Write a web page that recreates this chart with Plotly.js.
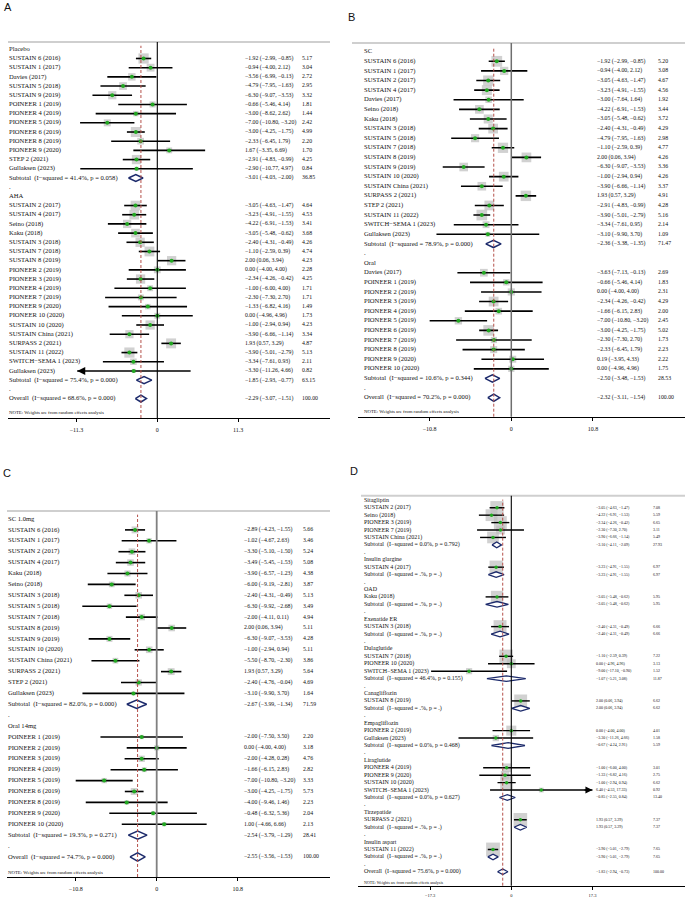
<!DOCTYPE html>
<html>
<head>
<meta charset="utf-8">
<script src="https://cdn.plot.ly/plotly-3.0.1.min.js"></script>
<style>
html, body { margin: 0; padding: 0; background: #fff; }
#chart { width: 685px; height: 900px; }
</style>
</head>
<body>
<div id="chart"></div>
<script>
// ---------- Panel A: semaglutide vs placebo / active hypoglycaemic agents ----------
const A_groups = ['Placebo', 'AHA'];
const A_studies = [
  ['SUSTAIN 6 (2016)', 'SUSTAIN 1 (2017)', 'Davies (2017)', 'SUSTAIN 5 (2018)', 'SUSTAIN 9 (2019)', 'POINEER 1 (2019)', 'PIONEER 4 (2019)', 'PIONEER 5 (2019)', 'PIONEER 6 (2019)', 'PIONEER 8 (2019)', 'PIONEER 9 (2020)', 'STEP 2 (2021)', 'Gullaksen (2023)'],
  ['SUSTAIN 2 (2017)', 'SUSTAIN 4 (2017)', 'Seino (2018)', 'Kaku (2018)', 'SUSTAIN 3 (2018)', 'SUSTAIN 7 (2018)', 'SUSTAIN 8 (2019)', 'PIONEER 2 (2019)', 'PIONEER 3 (2019)', 'PIONEER 4 (2019)', 'PIONEER 7 (2019)', 'PIONEER 9 (2020)', 'PIONEER 10 (2020)', 'SUSTAIN 10 (2020)', 'SUSTAIN China (2021)', 'SURPASS 2 (2021)', 'SUSTAIN 11 (2022)', 'SWITCH\u2212SEMA 1 (2023)', 'Gullaksen (2023)']
];
const A_wmd = [
  [-1.92, -0.94, -3.56, -4.79, -6.30, -0.66, -3.00, -7.00, -3.00, -2.33, 1.67, -2.91, -2.90],
  [-3.05, -3.23, -4.22, -3.05, -2.40, -1.10, 2.00, 0.00, -2.34, -1.00, -2.30, -1.33, 0.00, -1.00, -3.90, 1.93, -3.90, -3.34, -3.30]
];
const A_lower = [
  [-2.99, -4.00, -6.99, -7.95, -9.07, -5.46, -8.62, -10.80, -4.25, -6.45, -3.35, -4.83, -10.77],
  [-4.63, -4.91, -6.91, -5.48, -4.31, -2.59, 0.06, -4.00, -4.26, -6.00, -7.30, -6.82, -4.96, -2.94, -6.66, 0.57, -5.01, -7.61, -11.26]
];
const A_upper = [
  [-0.85, 2.12, -0.13, -1.63, -3.53, 4.14, 2.62, -3.20, -1.75, 1.79, 6.69, -0.99, 4.97],
  [-1.47, -1.55, -1.53, -0.62, -0.49, 0.39, 3.94, 4.00, -0.42, 4.00, 2.70, 4.16, 4.96, 0.94, -1.14, 3.29, -2.79, 0.93, 4.66]
];
const A_weight = [
  [5.17, 3.04, 2.72, 2.95, 3.32, 1.81, 1.44, 2.42, 4.99, 2.20, 1.70, 4.25, 0.84],
  [4.64, 4.53, 3.41, 3.68, 4.26, 4.74, 4.23, 2.28, 4.25, 1.71, 1.71, 1.49, 1.73, 4.23, 3.34, 4.87, 5.13, 2.11, 0.82]
];
const A_subHet = ['I\u2212squared = 41.4%, p = 0.058', 'I\u2212squared = 75.4%, p = 0.000'];
const A_subWmd = [-3.01, -1.85];
const A_subLower = [-4.03, -2.93];
const A_subUpper = [-2.00, -0.77];
const A_subWeight = [36.85, 63.15];
const A_overall = [-2.29, -3.07, -1.51];
const A_overallHet = 'I\u2212squared = 68.6%, p = 0.000';

// ---------- Panel B: SC vs oral ----------
const B_groups = ['SC', 'Oral'];
const B_studies = [
  ['SUSTAIN 6 (2016)', 'SUSTAIN 1 (2017)', 'SUSTAIN 2 (2017)', 'SUSTAIN 4 (2017)', 'Davies (2017)', 'Seino (2018)', 'Kaku (2018)', 'SUSTAIN 3 (2018)', 'SUSTAIN 5 (2018)', 'SUSTAIN 7 (2018)', 'SUSTAIN 8 (2019)', 'SUSTAIN 9 (2019)', 'SUSTAIN 10 (2020)', 'SUSTAIN China (2021)', 'SURPASS 2 (2021)', 'STEP 2 (2021)', 'SUSTAIN 11 (2022)', 'SWITCH\u2212SEMA 1 (2023)', 'Gullaksen (2023)'],
  ['Davies (2017)', 'POINEER 1 (2019)', 'PIONEER 2 (2019)', 'PIONEER 3 (2019)', 'PIONEER 4 (2019)', 'PIONEER 5 (2019)', 'PIONEER 6 (2019)', 'PIONEER 7 (2019)', 'PIONEER 8 (2019)', 'PIONEER 9 (2020)', 'PIONEER 10 (2020)']
];
const B_wmd = [
  [-1.92, -0.94, -3.05, -3.23, -3.00, -4.22, -3.05, -2.40, -4.79, -1.10, 2.00, -6.30, -1.00, -3.90, 1.93, -2.91, -3.90, -3.34, -3.10],
  [-3.63, -0.66, 0.00, -2.34, -1.66, -7.00, -3.00, -2.30, -2.33, 0.19, 0.00]
];
const B_lower = [
  [-2.99, -4.00, -4.63, -4.91, -7.64, -6.91, -5.48, -4.31, -7.95, -2.59, 0.06, -9.07, -2.94, -6.66, 0.57, -4.83, -5.01, -7.61, -9.90],
  [-7.13, -5.46, -4.00, -4.26, -6.15, -10.80, -4.25, -7.30, -6.45, -3.95, -4.96]
];
const B_upper = [
  [-0.85, 2.12, -1.47, -1.55, 1.64, -1.53, -0.62, -0.49, -1.63, 0.39, 3.94, -3.53, 0.94, -1.14, 3.29, -0.99, -2.79, 0.95, 3.70],
  [-0.13, 4.14, 4.00, -0.42, 2.83, -3.20, -1.75, 2.70, 1.79, 4.33, 4.96]
];
const B_weight = [
  [5.20, 3.08, 4.67, 4.56, 1.92, 3.44, 3.72, 4.29, 2.98, 4.77, 4.26, 3.36, 4.26, 3.37, 4.91, 4.28, 5.16, 2.14, 1.09],
  [2.69, 1.83, 2.31, 4.29, 2.00, 2.45, 5.02, 1.73, 2.23, 2.22, 1.75]
];
const B_subHet = ['I\u2212squared = 78.9%, p = 0.000', 'I\u2212squared = 10.6%, p = 0.344'];
const B_subWmd = [-2.36, -2.50];
const B_subLower = [-3.38, -3.48];
const B_subUpper = [-1.35, -1.53];
const B_subWeight = [71.47, 28.53];
const B_overall = [-2.32, -3.11, -1.54];
const B_overallHet = 'I\u2212squared = 70.2%, p = 0.000';

// ---------- Panel C: SC 1.0 mg vs oral 14 mg ----------
const C_groups = ['SC 1.0mg', 'Oral 14mg'];
const C_studies = [
  ['SUSTAIN 6 (2016)', 'SUSTAIN 1 (2017)', 'SUSTAIN 2 (2017)', 'SUSTAIN 4 (2017)', 'Kaku (2018)', 'Seino (2018)', 'SUSTAIN 3 (2018)', 'SUSTAIN 5 (2018)', 'SUSTAIN 7 (2018)', 'SUSTAIN 8 (2019)', 'SUSTAIN 9 (2019)', 'SUSTAIN 10 (2020)', 'SUSTAIN China (2021)', 'SURPASS 2 (2021)', 'STEP 2 (2021)', 'Gullaksen (2023)'],
  ['POINEER 1 (2019)', 'PIONEER 2 (2019)', 'PIONEER 3 (2019)', 'PIONEER 4 (2019)', 'PIONEER 5 (2019)', 'PIONEER 6 (2019)', 'PIONEER 8 (2019)', 'PIONEER 9 (2020)', 'PIONEER 10 (2020)']
];
const C_wmd = [
  [-2.89, -1.02, -3.30, -3.49, -3.90, -6.00, -2.40, -6.30, -2.00, 2.00, -6.30, -1.00, -5.50, 1.93, -2.40, -3.10],
  [-2.00, 0.00, -2.00, -1.66, -7.00, -3.00, -4.00, -0.48, 1.00]
];
const C_lower = [
  [-4.23, -4.67, -5.10, -5.45, -6.57, -9.19, -4.31, -9.92, -4.11, 0.06, -9.07, -2.94, -8.70, 0.57, -4.76, -9.90],
  [-7.50, -4.00, -4.28, -6.15, -10.80, -4.25, -9.46, -6.32, -4.66]
];
const C_upper = [
  [-1.55, 2.63, -1.50, -1.53, -1.23, -2.81, -0.49, -2.68, 0.11, 3.94, -3.53, 0.94, -2.30, 3.29, -0.04, 3.70],
  [3.50, 4.00, 0.28, 2.83, -3.20, -1.75, 1.46, 5.36, 6.66]
];
const C_weight = [
  [5.66, 3.46, 5.24, 5.08, 4.38, 3.87, 5.13, 3.49, 4.94, 5.11, 4.28, 5.11, 3.86, 5.64, 4.69, 1.64],
  [2.20, 3.18, 4.76, 2.82, 3.33, 5.73, 2.23, 2.04, 2.13]
];
const C_subHet = ['I\u2212squared = 82.0%, p = 0.000', 'I\u2212squared = 19.3%, p = 0.271'];
const C_subWmd = [-2.67, -2.54];
const C_subLower = [-3.99, -3.79];
const C_subUpper = [-1.34, -1.29];
const C_subWeight = [71.59, 28.41];
const C_overall = [-2.55, -3.56, -1.53];
const C_overallHet = 'I\u2212squared = 74.7%, p = 0.000';

// ---------- Panel D: by comparator ----------
const D_groups = ['Sitagliptin', 'Insulin glargine', 'OAD', 'Exenatide ER', 'Dulaglutide', 'Canagliflozin', 'Empagliflozin', 'Liraglutide', 'Tirzepatide', 'Insulin aspart'];
const D_studies = [
  ['SUSTAIN 2 (2017)', 'Seino (2018)', 'PIONEER 3 (2019)', 'PIONEER 7 (2019)', 'SUSTAIN China (2021)'],
  ['SUSTAIN 4 (2017)'],
  ['Kaku (2018)'],
  ['SUSTAIN 3 (2018)'],
  ['SUSTAIN 7 (2018)', 'PIONEER 10 (2020)', 'SWITCH\u2212SEMA 1 (2023)'],
  ['SUSTAIN 8 (2019)'],
  ['PIONEER 2 (2019)', 'Gullaksen (2023)'],
  ['PIONEER 4 (2019)', 'PIONEER 9 (2020)', 'SUSTAIN 10 (2020)', 'SWITCH\u2212SEMA 1 (2023)'],
  ['SURPASS 2 (2021)'],
  ['SUSTAIN 11 (2022)']
];
const D_wmd = [
  [-3.05, -4.22, -2.34, -2.30, -3.90], [-3.23], [-3.05], [-2.40], [-1.10, 0.00, -9.00],
  [2.00], [0.00, -3.30], [-1.00, -1.33, -1.00, 6.40], [1.93], [-3.90]
];
const D_lower = [
  [-4.63, -6.91, -4.26, -7.30, -6.66], [-4.91], [-5.48], [-4.31], [-2.59, -4.96, -17.10],
  [0.06], [-4.00, -11.26], [-6.00, -6.82, -2.94, -4.53], [0.57], [-5.01]
];
const D_upper = [
  [-1.47, -1.53, -0.42, 2.70, -1.14], [-1.55], [-0.62], [-0.49], [0.39, 4.96, -0.90],
  [3.94], [4.00, 4.66], [4.00, 4.16, 0.94, 17.33], [3.29], [-2.79]
];
const D_weight = [
  [7.08, 5.59, 6.65, 3.11, 5.49], [6.97], [5.95], [6.66], [7.22, 3.13, 1.52],
  [6.62], [4.01, 1.58], [3.01, 2.75, 6.62, 0.92], [7.37], [7.65]
];
const D_subHet = ['I\u2212squared = 0.0%, p = 0.792', 'I\u2212squared = .%, p = .', 'I\u2212squared = .%, p = .', 'I\u2212squared = .%, p = .', 'I\u2212squared = 46.4%, p = 0.155', 'I\u2212squared = .%, p = .', 'I\u2212squared = 0.0%, p = 0.468', 'I\u2212squared = 0.0%, p = 0.627', 'I\u2212squared = .%, p = .', 'I\u2212squared = .%, p = .'];
const D_subWmd = [-3.10, -3.23, -3.05, -2.40, -1.07, 2.00, -0.67, -0.85, 1.93, -3.90];
const D_subLower = [-4.11, -4.91, -5.48, -4.31, -5.21, 0.06, -4.24, -2.55, 0.57, -5.01];
const D_subUpper = [-2.09, -1.55, -0.62, -0.49, 3.08, 3.94, 2.91, 0.84, 3.29, -2.79];
const D_subWeight = [27.93, 6.97, 5.95, 6.66, 11.87, 6.62, 5.59, 13.40, 7.37, 7.65];
const D_overall = [-1.83, -2.94, -0.73];
const D_overallHet = 'I\u2212squared = 75.6%, p = 0.000';

// ---------- drawing helpers ----------
const W = 685, H = 900;
const SERIF = '"Liberation Serif", "Times New Roman", serif';
const SANS = '"Liberation Sans", Arial, sans-serif';
const MINUS = '\u2212';
const SP2 = '\u00a0\u00a0';
const BOX_GREY = '#bdbdbd';
const DOT_GREEN = '#22a822';
const NAVY = '#1c2a6b';
const REF_RED = '#b5504a';

function fmt(v) { return (v < 0 ? MINUS : '') + Math.abs(v).toFixed(2); }
function ciText(e, l, h) { return fmt(e) + ' (' + fmt(l) + ', ' + fmt(h) + ')'; }

const traces = [];
const shapes = [];
const annotations = [];
const layout = {
  width: W, height: H,
  margin: { l: 0, r: 0, t: 0, b: 0 },
  paper_bgcolor: '#fff', plot_bgcolor: 'rgba(0,0,0,0)',
  showlegend: false,
  font: { family: SERIF, color: '#111' }
};

function addPanel(d, g, idx) {
  const xa = idx === 1 ? 'x' : 'x' + idx;
  const ya = idx === 1 ? 'y' : 'y' + idx;
  const xd = px => (px - g.zero) / g.scale;   // pixel column -> data units
  const ry = py => (py - g.row0) / g.dr;      // pixel row -> row index

  // lay out rows: group header, studies, subtotal, spacer ... overall
  const rows = [];
  let r = 0;
  d.groups.forEach((name, gi) => {
    rows.push({ r: r++, label: name });
    d.studies[gi].forEach((s, si) => rows.push({
      r: r++, label: s, kind: 'study',
      est: d.wmd[gi][si], lo: d.lower[gi][si], hi: d.upper[gi][si], w: d.weight[gi][si]
    }));
    rows.push({
      r: r++, label: 'Subtotal' + SP2 + '(' + d.subHet[gi] + ')', kind: 'pool',
      est: d.subWmd[gi], lo: d.subLower[gi], hi: d.subUpper[gi], w: d.subWeight[gi]
    });
    rows.push({ r: r++, label: '.' });
  });
  rows.push({
    r: r++, label: 'Overall' + SP2 + '(' + d.overallHet + ')', kind: 'pool',
    est: d.overall[0], lo: d.overall[1], hi: d.overall[2], w: 100
  });

  const studies = rows.filter(o => o.kind === 'study');
  const pools = rows.filter(o => o.kind === 'pool');
  const stats = rows.filter(o => o.kind);

  // axes
  layout['xaxis' + (idx === 1 ? '' : idx)] = {
    domain: [g.axisX0 / W, g.axisX1 / W],
    range: [xd(g.axisX0), xd(g.axisX1)],
    anchor: ya, showline: true, linecolor: '#000', linewidth: 1.2,
    ticks: 'outside', ticklen: 3, tickcolor: '#000', tickwidth: 1,
    tickvals: [-g.tick, 0, g.tick],
    ticktext: [MINUS + g.tick.toFixed(1), '0', g.tick.toFixed(1)],
    tickfont: { family: SERIF, size: g.fsTick, color: '#111' },
    ticklabelstandoff: g.tickStandoff,
    showgrid: false, zeroline: false, fixedrange: true
  };
  layout['yaxis' + (idx === 1 ? '' : idx)] = {
    domain: [1 - g.axisY / H, 1 - g.sepY / H],
    range: [ry(g.axisY), ry(g.sepY)],
    anchor: xa, visible: false, fixedrange: true
  };

  // header separator
  shapes.push({
    type: 'line', xref: 'paper', yref: 'paper',
    x0: g.sepX0 / W, x1: g.sepX1 / W, y0: 1 - g.sepY / H, y1: 1 - g.sepY / H,
    line: { color: '#cfcfcf', width: 2 }
  });
  // line of no effect
  shapes.push({
    type: 'line', xref: xa, yref: ya + ' domain', x0: 0, x1: 0, y0: 0, y1: 1,
    line: { color: g.zeroColor, width: g.zeroWidth }
  });
  // overall-estimate reference line
  shapes.push({
    type: 'line', xref: xa, yref: ya + ' domain', x0: d.overall[0], x1: d.overall[0], y0: 0, y1: 0.99,
    line: { color: REF_RED, width: 1, dash: '3px,2px' }
  });

  // weight boxes
  traces.push({
    type: 'scatter', mode: 'markers', xaxis: xa, yaxis: ya, hoverinfo: 'skip', cliponaxis: false,
    x: studies.map(o => o.est), y: studies.map(o => o.r),
    marker: { symbol: 'square', size: studies.map(o => g.k * Math.sqrt(o.w)), color: BOX_GREY, line: { width: 0 } }
  });
  // confidence intervals + point estimates
  traces.push({
    type: 'scatter', mode: 'markers', xaxis: xa, yaxis: ya, hoverinfo: 'skip', cliponaxis: false,
    x: studies.map(o => o.est), y: studies.map(o => o.r),
    marker: { symbol: 'circle', size: g.dot, color: DOT_GREEN, line: { width: 0 } },
    error_x: {
      type: 'data', symmetric: false, width: 0, color: '#000', thickness: g.ciWidth,
      array: studies.map(o => Math.min(o.hi, g.clip[1]) - o.est),
      arrayminus: studies.map(o => o.est - Math.max(o.lo, g.clip[0]))
    }
  });
  // arrows for intervals running past the scale
  studies.forEach(o => {
    if (o.lo < g.clip[0]) annotations.push({
      xref: xa, yref: ya, axref: xa, ayref: ya, x: g.clip[0], y: o.r, ax: g.clip[0] + g.arrowLen, ay: o.r,
      text: '', showarrow: true, arrowhead: 2, arrowsize: 1, arrowwidth: g.ciWidth, arrowcolor: '#000', standoff: 0
    });
    if (o.hi > g.clip[1]) annotations.push({
      xref: xa, yref: ya, axref: xa, ayref: ya, x: g.clip[1], y: o.r, ax: g.clip[1] - g.arrowLen, ay: o.r,
      text: '', showarrow: true, arrowhead: 2, arrowsize: 1, arrowwidth: g.ciWidth, arrowcolor: '#000', standoff: 0
    });
  });
  // pooled diamonds
  pools.forEach(o => {
    traces.push({
      type: 'scatter', mode: 'lines', xaxis: xa, yaxis: ya, hoverinfo: 'skip', cliponaxis: false,
      x: [o.lo, o.est, o.hi, o.est, o.lo], y: [o.r, o.r - g.dh, o.r, o.r + g.dh, o.r],
      fill: 'toself', fillcolor: '#fff', line: { color: NAVY, width: g.diamondWidth }
    });
  });

  // text columns
  const textTrace = (xs, ys, txt, size) => ({
    type: 'scatter', mode: 'text', xaxis: xa, yaxis: ya, hoverinfo: 'skip', cliponaxis: false,
    x: xs, y: ys, text: txt, textposition: 'middle right',
    textfont: { family: SERIF, size: size, color: '#111' }
  });
  traces.push(textTrace(rows.map(() => xd(g.labelX)), rows.map(o => o.r), rows.map(o => o.label), g.fs));
  traces.push(textTrace(stats.map(() => xd(g.ciX)), stats.map(o => o.r), stats.map(o => ciText(o.est, o.lo, o.hi)), g.fsNum));
  traces.push(textTrace(stats.map(() => xd(g.wX)), stats.map(o => o.r), stats.map(o => o.w.toFixed(2)), g.fsNum));
  // column headings and footnote
  traces.push(textTrace([xd(g.labelX), xd(g.labelX)], [ry(g.studyY), ry(g.idY)], ['Study', 'ID'], g.fsHead));
  traces.push(textTrace([xd(g.ciHeadX), xd(g.pctX), xd(g.pctX)], [ry(g.idY), ry(g.pctY), ry(g.idY)], ['WMD (95% CI)', '%', 'Weight'], g.fsHead2));
  traces.push(textTrace([xd(g.labelX)], [ry(g.noteY)], ['NOTE: Weights are from random effects analysis'], g.fsNote));

  // panel letter
  annotations.push({
    xref: 'paper', yref: 'paper', x: g.letterX / W, y: 1 - g.letterY / H,
    xanchor: 'left', yanchor: 'middle', showarrow: false, text: g.letter,
    font: { family: SANS, size: g.fsLetter, color: '#111' }
  });
}

const common = { dot: 4, ciWidth: 1.6, dh: 0.38, diamondWidth: 1.5, fsLetter: 11, tickStandoff: 3 };

addPanel(
  { groups: A_groups, studies: A_studies, wmd: A_wmd, lower: A_lower, upper: A_upper, weight: A_weight,
    subHet: A_subHet, subWmd: A_subWmd, subLower: A_subLower, subUpper: A_subUpper, subWeight: A_subWeight,
    overall: A_overall, overallHet: A_overallHet },
  Object.assign({}, common, {
    axisX0: 8, axisX1: 330, zero: 157.3, scale: 7.15, tick: 11.3,
    sepX0: 8, sepX1: 330, sepY: 42, axisY: 418, row0: 49.3, dr: 9.19,
    labelX: 9, ciX: 245, wX: 302, ciHeadX: 245, pctX: 303, studyY: 22, idY: 31, pctY: 21, noteY: 413.3,
    letter: 'A', letterX: 2, letterY: 7,
    fs: 6.6, fsNum: 5.8, fsHead: 6.3, fsHead2: 6, fsNote: 4.8, fsTick: 6,
    k: 4.5, zeroColor: '#000', zeroWidth: 1.1, clip: [-11.2, 11.3], arrowLen: 1.2
  }), 1);

addPanel(
  { groups: B_groups, studies: B_studies, wmd: B_wmd, lower: B_lower, upper: B_upper, weight: B_weight,
    subHet: B_subHet, subWmd: B_subWmd, subLower: B_subLower, subUpper: B_subUpper, subWeight: B_subWeight,
    overall: B_overall, overallHet: B_overallHet },
  Object.assign({}, common, {
    axisX0: 358, axisX1: 685, zero: 511.3, scale: 7.56, tick: 10.8,
    sepX0: 352, sepX1: 685, sepY: 43, axisY: 416.7, row0: 51.7, dr: 9.61,
    labelX: 364, ciX: 597, wX: 658, ciHeadX: 597, pctX: 658, studyY: 22, idY: 31, pctY: 22, noteY: 412.3,
    letter: 'B', letterX: 346, letterY: 17,
    fs: 6.6, fsNum: 5.8, fsHead: 6.3, fsHead2: 6, fsNote: 4.8, fsTick: 6,
    k: 4.7, zeroColor: '#6e6e6e', zeroWidth: 1.5, clip: [-10.85, 10.85], arrowLen: 1.2
  }), 2);

addPanel(
  { groups: C_groups, studies: C_studies, wmd: C_wmd, lower: C_lower, upper: C_upper, weight: C_weight,
    subHet: C_subHet, subWmd: C_subWmd, subLower: C_subLower, subUpper: C_subUpper, subWeight: C_subWeight,
    overall: C_overall, overallHet: C_overallHet },
  Object.assign({}, common, {
    axisX0: 7, axisX1: 330, zero: 156.7, scale: 7.5, tick: 10.8,
    sepX0: 7, sepX1: 330, sepY: 511, axisY: 877, row0: 519, dr: 10.9,
    labelX: 8, ciX: 244, wX: 303, ciHeadX: 235, pctX: 303, studyY: 491, idY: 500, pctY: 490, noteY: 872.7,
    letter: 'C', letterX: 1, letterY: 472.7,
    fs: 6.6, fsNum: 5.8, fsHead: 6.3, fsHead2: 6, fsNote: 4.8, fsTick: 6,
    k: 2.9, zeroColor: '#808080', zeroWidth: 1.8, clip: [-10.85, 10.85], arrowLen: 1.2
  }), 3);

addPanel(
  { groups: D_groups, studies: D_studies, wmd: D_wmd, lower: D_lower, upper: D_upper, weight: D_weight,
    subHet: D_subHet, subWmd: D_subWmd, subLower: D_subLower, subUpper: D_subUpper, subWeight: D_subWeight,
    overall: D_overall, overallHet: D_overallHet },
  Object.assign({}, common, {
    axisX0: 358, axisX1: 685, zero: 511.3, scale: 4.69, tick: 17.3,
    sepX0: 361, sepX1: 685, sepY: 495.7, axisY: 885.7, row0: 500.3, dr: 7.43,
    labelX: 364, ciX: 596, wX: 653, ciHeadX: 596, pctX: 653, studyY: 479, idY: 487, pctY: 478, noteY: 882.7,
    letter: 'D', letterX: 348, letterY: 471.5,
    fs: 6, fsNum: 4, fsHead: 6, fsHead2: 4.2, fsNote: 4, fsTick: 4.5,
    k: 5, zeroColor: '#000', zeroWidth: 1.1, clip: [-17.3, 17.3], arrowLen: 2,
    ciWidth: 1.4, dot: 3.5, diamondWidth: 1.3, tickStandoff: 2
  }), 4);

layout.shapes = shapes;
layout.annotations = annotations;

Plotly.newPlot('chart', traces, layout, { staticPlot: true, displayModeBar: false });
</script>
</body>
</html>
